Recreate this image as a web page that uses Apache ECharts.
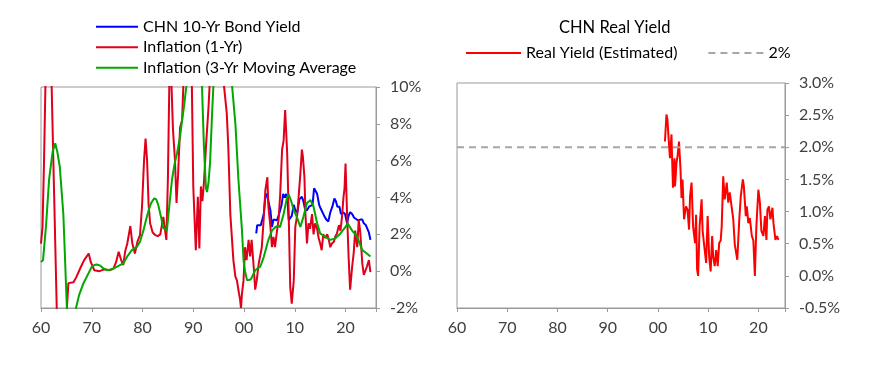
<!DOCTYPE html>
<html>
<head>
<meta charset="utf-8">
<script src="https://cdn.jsdelivr.net/npm/echarts@6/dist/echarts.min.js"></script>
<style>
html,body{margin:0;padding:0;background:#fff;}
#chart{width:869px;height:366px;}
</style>
</head>
<body>
<div id="chart"></div>
<script>
// ---------- DATA ----------
// Left panel: CHN 10-Yr Bond Yield (%)
const bondYears = [2002.4,2002.6,2002.9,2003.3,2003.6,2003.9,2004.2,2004.5,2004.8,2005.2,2005.5,2005.8,2006.1,2006.5,2006.8,2007.1,2007.4,2007.7,2008.0,2008.3,2008.6,2008.8,2009.0,2009.4,2009.8,2010.1,2010.5,2010.9,2011.4,2011.7,2012.0,2012.4,2012.8,2013.1,2013.5,2013.8,2014.1,2014.4,2014.8,2015.1,2015.4,2015.8,2016.2,2016.6,2017.0,2017.4,2017.8,2018.1,2018.4,2018.8,2019.1,2019.5,2019.9,2020.3,2020.6,2020.9,2021.3,2021.7,2022.0,2022.5,2022.9,2023.3,2023.6,2024.0,2024.3,2024.6,2024.9];
const bondValues = [2.05,2.5,2.6,2.5,2.8,3.13,4.04,4.2,3.8,3.3,2.4,2.8,2.7,2.77,3.0,3.1,3.6,4.2,4.0,4.2,3.7,2.77,2.7,3.0,3.6,3.3,3.2,3.9,4.04,3.8,3.4,3.3,3.5,3.5,3.6,4.5,4.4,4.2,3.6,3.4,3.4,3.0,2.8,2.7,3.2,3.5,3.95,3.8,3.5,3.5,3.1,3.2,3.1,2.6,3.0,3.2,3.1,2.9,2.8,2.75,2.8,2.8,2.6,2.5,2.3,2.1,1.7];

// Left panel: Inflation (1-Yr) (%)
const inflYears = [1960.0,1960.3,1960.6,1961.0,1961.5,1962.0,1962.1,1962.6,1963.1,1963.6,1964.3,1964.8,1965.1,1965.4,1966.4,1967.0,1967.8,1968.5,1969.4,1969.8,1970.5,1971.5,1972.5,1973.5,1974.3,1974.8,1975.3,1975.8,1976.2,1976.6,1977.0,1977.6,1978.0,1978.5,1979.0,1979.5,1979.9,1980.3,1980.6,1980.9,1981.2,1981.5,1982.0,1982.5,1983.0,1983.5,1984.1,1984.4,1984.7,1985.0,1985.3,1985.6,1986.0,1986.4,1986.7,1987.0,1987.4,1987.8,1988.1,1988.5,1989.0,1989.4,1989.7,1990.0,1990.5,1990.9,1991.2,1991.5,1991.8,1992.1,1992.5,1993.0,1993.3,1993.8,1994.5,1995.2,1995.8,1996.0,1996.6,1996.9,1997.3,1997.9,1998.3,1998.6,1999.0,1999.2,1999.4,1999.6,1999.9,2000.2,2000.5,2000.9,2001.2,2001.5,2001.9,2002.2,2002.5,2002.9,2003.2,2003.5,2003.9,2004.2,2004.6,2004.8,2005.2,2005.5,2005.8,2006.1,2006.5,2006.8,2007.1,2007.5,2007.8,2008.1,2008.5,2008.8,2009.1,2009.4,2009.8,2010.1,2010.5,2010.8,2011.1,2011.4,2011.6,2011.9,2012.1,2012.4,2012.7,2013.0,2013.4,2013.7,2014.0,2014.4,2014.7,2015.0,2015.3,2015.6,2016.0,2016.4,2016.7,2017.0,2017.3,2017.7,2018.0,2018.3,2018.7,2019.0,2019.3,2019.6,2019.8,2020.0,2020.3,2020.6,2020.9,2021.3,2021.6,2021.9,2022.3,2022.6,2022.9,2023.3,2023.6,2023.9,2024.2,2024.6,2024.9];
const inflValues = [1.5,2.4,6,12,16,12,10,4,-2,-5,-5.5,-4,-2,-0.65,-0.6,-0.3,0.2,0.6,0.96,0.5,0.05,0.0,0.1,0.05,0.15,0.5,1.05,0.6,0.33,1.1,1.5,2.45,1.5,0.96,1.6,1.96,3.5,6.0,7.2,6.0,3.6,2.6,2.1,1.96,1.9,2.0,2.95,2.3,1.7,5,10.5,11,7.7,6.0,3.7,5.2,7.8,8.2,10.5,18,26,20,10.5,4.6,1.14,4.04,1.23,4.6,3.8,4.8,6.75,8.9,10.5,18,27,20,12,10.2,8.57,6.75,3.1,0.6,-0.3,-0.5,-1.2,-1.5,-2.0,-1.2,-0.5,1.3,0.6,1.7,0.8,1.7,0.24,-1.0,-0.5,0.42,0.5,1.3,2.95,4.4,5.1,3.5,2.4,1.3,1.86,1.3,2.2,2.77,4.04,6.6,7.1,8.75,6.4,3.1,-0.85,-1.76,-0.5,2.4,3.1,4.2,5.3,6.6,6.2,5.1,3.1,1.5,2.6,2.3,3.1,2.0,2.6,2.3,1.8,1.5,1.14,2.0,1.8,2.0,1.7,1.3,1.5,1.6,1.9,2.05,2.5,2.2,2.95,4.04,4.5,5.85,3.1,0.78,-1.0,0.24,0.96,2.2,1.3,2.77,2.1,0.42,-0.2,-0.3,0.24,0.6,-0.05];

// Left panel: Inflation (3-Yr Moving Average) (%)
const maYears = [1960.0,1960.4,1961.0,1961.6,1962.3,1962.8,1963.2,1963.7,1964.4,1965.1,1965.5,1966.2,1966.9,1967.5,1968.3,1969.2,1970.0,1970.5,1971.0,1971.7,1972.3,1973.0,1974.0,1975.0,1976.2,1977.0,1977.9,1978.9,1979.5,1980.2,1980.8,1981.2,1981.7,1982.3,1982.7,1983.1,1983.6,1984.1,1984.8,1985.3,1985.8,1986.3,1986.8,1987.4,1987.7,1988.2,1988.7,1989.5,1990.3,1991.0,1991.7,1992.1,1992.5,1992.7,1993.0,1993.3,1993.7,1994.0,1995.0,1996.0,1997.0,1997.6,1998.3,1998.9,1999.6,1999.9,2000.2,2000.6,2000.9,2001.3,2001.6,2002.2,2002.7,2003.2,2003.9,2004.4,2004.8,2005.5,2006.2,2006.7,2007.1,2007.8,2008.5,2008.8,2009.3,2009.8,2010.4,2011.1,2011.7,2012.4,2013.1,2013.7,2014.4,2015.0,2016.0,2017.0,2018.0,2019.0,2020.0,2020.4,2021.3,2022.3,2022.8,2023.3,2024.2,2024.9];
const maValues = [0.5,0.6,2.5,5.0,6.5,6.94,6.5,5.67,3.1,-2.0,-3.5,-3.5,-2.0,-1.3,-0.7,-0.2,0.24,0.33,0.36,0.3,0.15,0.05,0.1,0.25,0.42,0.8,1.14,1.32,1.6,2.23,2.9,3.3,3.7,3.95,3.9,3.6,3.0,2.35,2.2,3.6,4.95,5.8,6.4,7.3,8.0,9.0,10.2,15,16,13,10.2,6.75,4.5,4.3,4.8,5.85,8.5,10.3,18,16,12,10.2,8.0,4.95,2.2,0.6,0.0,-0.5,-0.6,-0.45,-0.3,0.05,0.15,0.24,0.78,1.3,1.7,2.2,2.4,2.45,2.4,3.1,4.04,4.15,3.8,3.3,2.95,2.4,2.95,3.7,3.86,3.5,2.6,2.05,1.86,1.7,1.78,2.05,2.4,2.6,2.2,1.86,1.5,1.14,0.96,0.8];

// Right panel: Real Yield (Estimated) (%)
const realYears = [2001.4,2001.7,2001.9,2002.1,2002.4,2002.7,2002.8,2003.0,2003.3,2003.4,2003.7,2003.9,2004.2,2004.5,2004.7,2004.9,2005.2,2005.6,2005.9,2006.2,2006.4,2006.7,2007.0,2007.4,2007.6,2007.8,2008.0,2008.3,2008.7,2008.9,2009.3,2009.6,2009.9,2010.2,2010.5,2010.8,2011.0,2011.3,2011.6,2011.9,2012.2,2012.5,2012.7,2013.0,2013.3,2013.7,2014.0,2014.3,2015.0,2015.3,2015.8,2016.2,2016.5,2016.9,2017.1,2017.5,2017.7,2018.0,2018.3,2018.7,2019.0,2019.3,2019.6,2020.0,2020.3,2020.6,2021.0,2021.3,2021.6,2021.8,2022.1,2022.4,2022.8,2023.0,2023.4,2023.7,2024.0];
const realValues = [2.09,2.51,2.43,2.17,1.83,2.2,1.9,1.37,1.83,1.39,1.76,1.86,2.09,1.65,1.21,1.5,0.88,1.08,1.03,0.72,1.24,1.45,0.77,0.51,0.95,0.1,0.0,0.77,1.19,0.7,0.41,0.2,0.93,0.3,0.07,0.62,0.3,0.15,0.4,0.15,0.51,0.55,0.77,1.55,1.19,1.45,1.14,1.3,0.88,0.49,0.25,0.88,1.24,1.5,1.4,0.93,1.08,0.82,0.9,0.62,0.55,0.0,0.77,1.34,1.14,0.7,0.62,0.93,0.56,1.03,1.08,0.88,1.06,0.82,0.56,0.62,0.56];

// Right panel: 2% reference
const refYears = [1960, 2025.3];
const refValues = [2, 2];

// Tick settings
const leftYTicks = { min: -2, max: 10, step: 2 };
const rightYTicks = { min: -0.5, max: 3, step: 0.5 };
const xTicks = { min: 1960, step: 10 };

// ---------- CHART ----------
const pairs = (xs, ys) => xs.map((x, i) => [x, ys[i]]);
const FONT = 'Lato, "Liberation Sans", sans-serif';
const AXIS = '#9a9a9a';
const TXT = '#404040';

const xLabel = v => (Math.abs(v % 10) < 1e-9 ? String(Math.round(v)).slice(2) : '');

function xAxesFor(grid, max) {
  return [
    { gridIndex: grid, type: 'value', min: xTicks.min, max: max, interval: xTicks.step,
      axisLine: { show: false }, axisTick: { show: false }, splitLine: { show: false },
      axisLabel: { show: true, formatter: xLabel, margin: 12, fontSize: 16, fontFamily: FONT, color: TXT, showMaxLabel: false } },
    { gridIndex: grid, type: 'value', position: 'bottom', min: xTicks.min, max: max, interval: xTicks.step,
      axisLine: { show: true, onZero: true, lineStyle: { color: AXIS, width: 1 } },
      axisTick: { show: true, inside: false, length: 4, lineStyle: { color: AXIS } },
      axisLabel: { show: false }, splitLine: { show: false } }
  ];
}

const chart = echarts.init(document.getElementById('chart'), null, { renderer: 'canvas' });
const lineS = (name, xi, yi, xs, ys, color, extra) => Object.assign({
  name, type: 'line', xAxisIndex: xi, yAxisIndex: yi, data: pairs(xs, ys),
  symbol: 'none', showSymbol: false, clip: true, animation: false,
  lineStyle: { color, width: 2 }, itemStyle: { color }
}, extra || {});

const hiddenSymbol = { color: 'rgba(0,0,0,0)', borderColor: 'rgba(0,0,0,0)', borderWidth: 0, opacity: 0 };

chart.setOption({
  animation: false,
  title: {
    text: 'CHN Real Yield', left: 559, top: 19, padding: 0,
    textStyle: { fontSize: 16.5, fontWeight: 'normal', fontFamily: FONT, color: '#000' }
  },
  legend: [
    { data: ['CHN 10-Yr Bond Yield', 'Inflation (1-Yr)', 'Inflation (3-Yr Moving Average'],
      orient: 'vertical', left: 95, top: 16.5, padding: 0, itemWidth: 42, itemHeight: 12, itemGap: 0,
      itemStyle: hiddenSymbol,
      selectedMode: false, textStyle: { fontSize: 16, lineHeight: 20.5, fontFamily: FONT, color: '#000' } },
    { data: ['Real Yield (Estimated)', '2%'],
      orient: 'horizontal', left: 465, top: 45, padding: 0, itemWidth: 55, itemHeight: 12, itemGap: 30,
      itemStyle: hiddenSymbol,
      selectedMode: false, textStyle: { fontSize: 16, fontFamily: FONT, color: '#000' } }
  ],
  grid: [
    { left: 41, top: 87, width: 335, height: 221, show: true, borderColor: AXIS, borderWidth: 1, containLabel: false },
    { left: 457, top: 83, width: 328, height: 225, show: true, borderColor: AXIS, borderWidth: 1, containLabel: false }
  ],
  xAxis: [].concat(xAxesFor(0, 2026), xAxesFor(1, 2025.3)),
  yAxis: [
    { gridIndex: 0, type: 'value', position: 'right', min: leftYTicks.min, max: leftYTicks.max, interval: leftYTicks.step,
      axisLine: { show: true, onZero: false, lineStyle: { color: AXIS } },
      axisTick: { show: true, length: 4, lineStyle: { color: AXIS } }, splitLine: { show: false },
      axisLabel: { formatter: v => Math.round(v) + '%', margin: 14, fontSize: 16, fontFamily: FONT, color: TXT } },
    { gridIndex: 1, type: 'value', position: 'right', min: rightYTicks.min, max: rightYTicks.max, interval: rightYTicks.step,
      axisLine: { show: true, onZero: false, lineStyle: { color: AXIS } },
      axisTick: { show: true, length: 4, lineStyle: { color: AXIS } }, splitLine: { show: false },
      axisLabel: { formatter: v => v.toFixed(1) + '%', margin: 14, fontSize: 16, fontFamily: FONT, color: TXT } }
  ],
  series: [
    lineS('CHN 10-Yr Bond Yield', 0, 0, bondYears, bondValues, '#0000ff'),
    lineS('Inflation (1-Yr)', 0, 0, inflYears, inflValues, '#e0001b'),
    lineS('Inflation (3-Yr Moving Average', 0, 0, maYears, maValues, '#00a800'),
    lineS('Real Yield (Estimated)', 2, 1, realYears, realValues, '#ff0000'),
    lineS('2%', 2, 1, refYears, refValues, '#a6a6a6', { lineStyle: { color: '#a6a6a6', width: 2, type: [7, 5] } })
  ]
});
</script>
</body>
</html>
